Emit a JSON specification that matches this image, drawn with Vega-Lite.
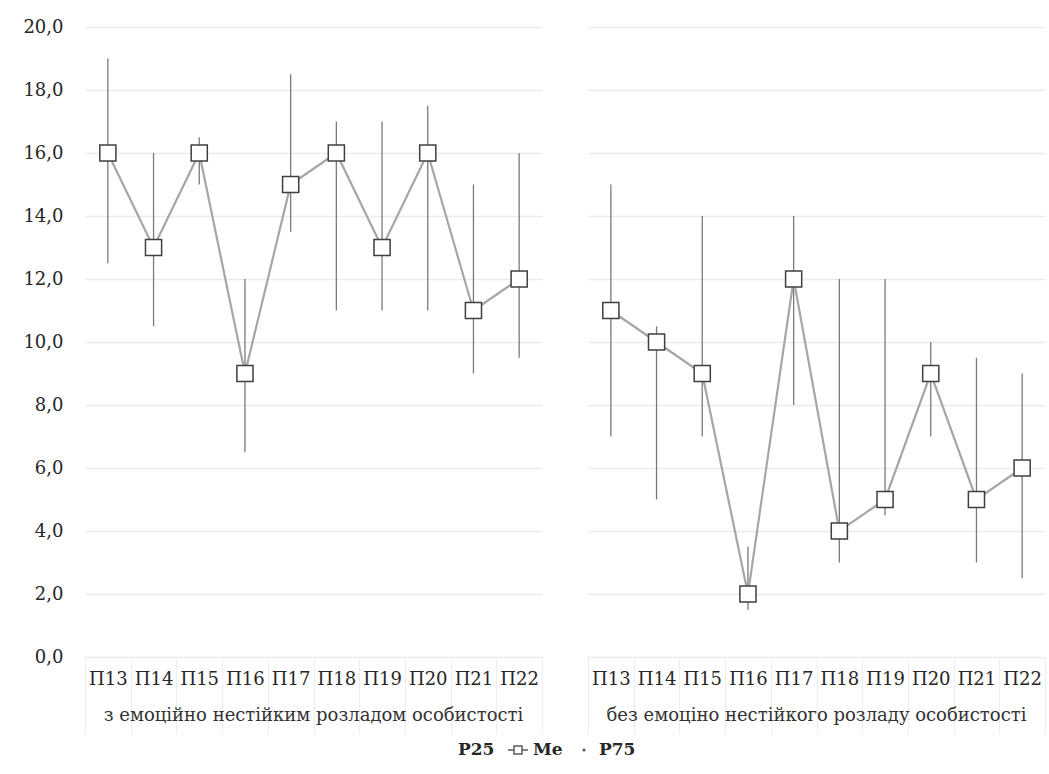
{
  "$schema": "https://vega.github.io/schema/vega-lite/v6.json",
  "background": "white",
  "padding": {"left": 22, "top": 18, "right": 2, "bottom": 6},
  "datasets": {
    "stats": [
      {"group": "з емоційно нестійким розладом  особистості", "param": "П13", "P25": 12.5, "Me": 16, "P75": 19},
      {"group": "з емоційно нестійким розладом  особистості", "param": "П14", "P25": 10.5, "Me": 13, "P75": 16},
      {"group": "з емоційно нестійким розладом  особистості", "param": "П15", "P25": 15, "Me": 16, "P75": 16.5},
      {"group": "з емоційно нестійким розладом  особистості", "param": "П16", "P25": 6.5, "Me": 9, "P75": 12},
      {"group": "з емоційно нестійким розладом  особистості", "param": "П17", "P25": 13.5, "Me": 15, "P75": 18.5},
      {"group": "з емоційно нестійким розладом  особистості", "param": "П18", "P25": 11, "Me": 16, "P75": 17},
      {"group": "з емоційно нестійким розладом  особистості", "param": "П19", "P25": 11, "Me": 13, "P75": 17},
      {"group": "з емоційно нестійким розладом  особистості", "param": "П20", "P25": 11, "Me": 16, "P75": 17.5},
      {"group": "з емоційно нестійким розладом  особистості", "param": "П21", "P25": 9, "Me": 11, "P75": 15},
      {"group": "з емоційно нестійким розладом  особистості", "param": "П22", "P25": 9.5, "Me": 12, "P75": 16},
      {"group": "без емоціно нестійкого розладу  особистості", "param": "П13", "P25": 7, "Me": 11, "P75": 15},
      {"group": "без емоціно нестійкого розладу  особистості", "param": "П14", "P25": 5, "Me": 10, "P75": 10.5},
      {"group": "без емоціно нестійкого розладу  особистості", "param": "П15", "P25": 7, "Me": 9, "P75": 14},
      {"group": "без емоціно нестійкого розладу  особистості", "param": "П16", "P25": 1.5, "Me": 2, "P75": 3.5},
      {"group": "без емоціно нестійкого розладу  особистості", "param": "П17", "P25": 8, "Me": 12, "P75": 14},
      {"group": "без емоціно нестійкого розладу  особистості", "param": "П18", "P25": 3, "Me": 4, "P75": 12},
      {"group": "без емоціно нестійкого розладу  особистості", "param": "П19", "P25": 4.5, "Me": 5, "P75": 12},
      {"group": "без емоціно нестійкого розладу  особистості", "param": "П20", "P25": 7, "Me": 9, "P75": 10},
      {"group": "без емоціно нестійкого розладу  особистості", "param": "П21", "P25": 3, "Me": 5, "P75": 9.5},
      {"group": "без емоціно нестійкого розладу  особистості", "param": "П22", "P25": 2.5, "Me": 6, "P75": 9}
    ]
  },
  "data": {"name": "stats"},
  "facet": {
    "column": {
      "field": "group",
      "type": "nominal",
      "title": null,
      "sort": ["з емоційно нестійким розладом  особистості", "без емоціно нестійкого розладу  особистості"],
      "header": {
        "labelOrient": "bottom",
        "labelFont": "DejaVu Serif",
        "labelFontSize": 18,
        "labelColor": "#333333",
        "labelPadding": -27
      }
    }
  },
  "spacing": 46,
  "spec": {
    "width": 457,
    "height": 630,
    "encoding": {
      "x": {
        "field": "param",
        "type": "ordinal",
        "scale": {"type": "band", "paddingInner": 0, "paddingOuter": 0},
        "axis": {
          "title": null,
          "labelAngle": 0,
          "labelFont": "DejaVu Serif",
          "labelFontSize": 18,
          "labelColor": "#262626",
          "labelPadding": -63,
          "domain": false,
          "ticks": true,
          "tickBand": "extent",
          "tickSize": 76,
          "tickColor": "#ededed",
          "grid": false
        }
      }
    },
    "layer": [
      {
        "mark": {"type": "rule", "color": "#7a7a7a", "strokeWidth": 1.3},
        "encoding": {
          "y": {
            "field": "P25",
            "type": "quantitative",
            "scale": {"domain": [0, 20]},
            "axis": {
              "title": null,
              "values": [0, 2, 4, 6, 8, 10, 12, 14, 16, 18, 20],
              "labelExpr": "replace(format(datum.value, '.1f'), '.', ',')",
              "labelFont": "DejaVu Serif",
              "labelFontSize": 18,
              "labelColor": "#262626",
              "labelPadding": 22,
              "domain": false,
              "ticks": false,
              "gridColor": "#ebebeb",
              "gridWidth": 1.5
            }
          },
          "y2": {"field": "P75"}
        }
      },
      {
        "mark": {"type": "line", "color": "#a6a6a6", "strokeWidth": 2.2},
        "encoding": {"y": {"field": "Me", "type": "quantitative"}}
      },
      {
        "mark": {"type": "point", "shape": "square", "filled": true, "fill": "white", "stroke": "#3f3f3f", "strokeWidth": 1.5, "size": 260, "opacity": 1},
        "encoding": {"y": {"field": "Me", "type": "quantitative"}}
      },
      {
        "transform": [{"fold": ["P25", "Me", "P75"], "as": ["series", "val"]}],
        "mark": {"type": "point", "opacity": 0, "size": 10},
        "encoding": {
          "y": {"field": "val", "type": "quantitative"},
          "shape": {
            "field": "series",
            "type": "nominal",
            "scale": {
              "domain": ["P25", "Me", "P75"],
              "range": [
                "M0,0",
                "M-1,0H-0.4M0.4,0H1M-0.4,-0.4H0.4V0.4H-0.4Z",
                "M-0.08,0A0.08,0.08 0 1,0 0.08,0A0.08,0.08 0 1,0 -0.08,0Z"
              ]
            },
            "legend": {
              "title": null,
              "orient": "bottom",
              "direction": "horizontal",
              "symbolSize": 400,
              "symbolOpacity": 1,
              "symbolStrokeColor": "#595959",
              "symbolFillColor": "white",
              "symbolStrokeWidth": 1.5,
              "labelFont": "DejaVu Serif",
              "labelFontSize": 17,
              "labelFontWeight": "bold",
              "labelColor": "#262626",
              "columnPadding": 10,
              "offset": 5
            }
          }
        }
      }
    ]
  },
  "config": {
    "font": "DejaVu Serif",
    "view": {"stroke": null},
    "legend": {"layout": {"bottom": {"anchor": "middle"}}}
  }
}
